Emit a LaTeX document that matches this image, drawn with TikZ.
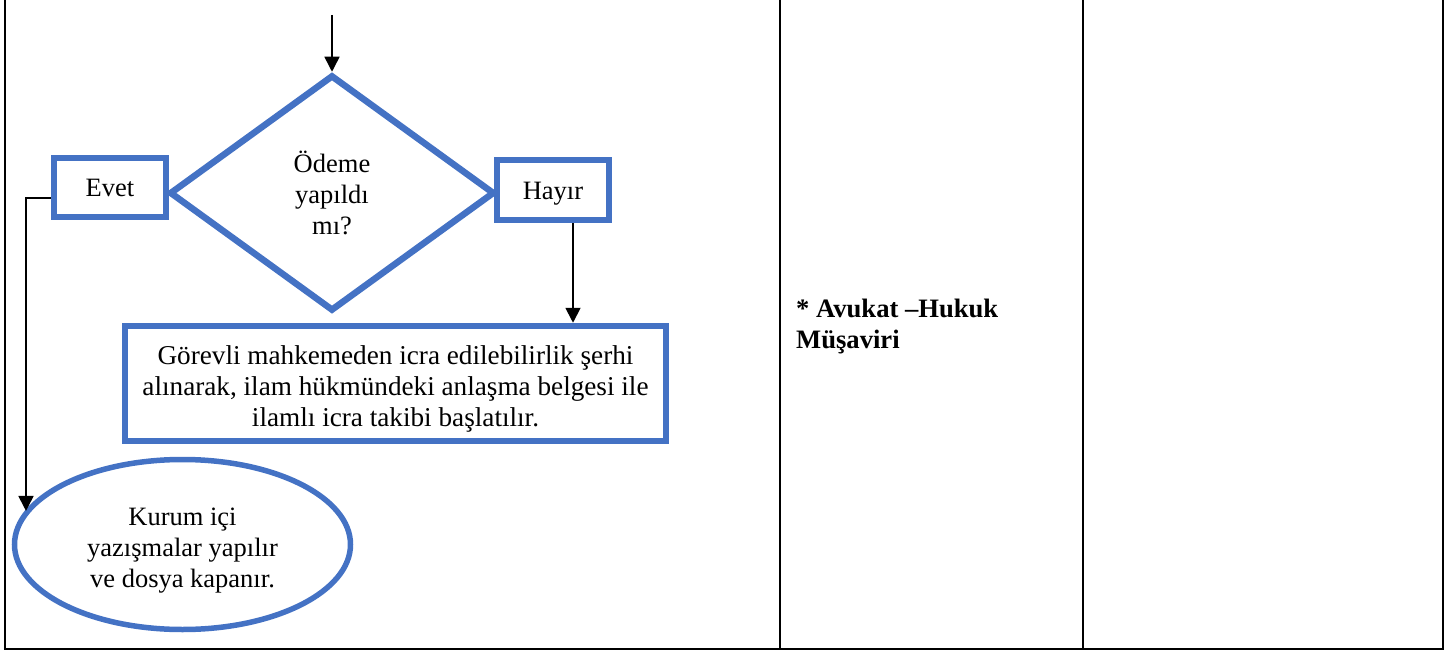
\documentclass[tikz,border=0pt]{standalone}
\usepackage{fontspec}
\setmainfont{Liberation Serif}
\usetikzlibrary{shapes.geometric,arrows.meta}
\definecolor{flowblue}{HTML}{4472C4}
\tikzset{
  x=1pt, y=-1pt,
  txt/.style={font=\fontsize{26.5}{31}\selectfont, align=center, inner sep=0pt},
  bluebox/.style={txt, draw=flowblue, line width=6.5pt, rectangle},
  arr/.style={line width=1.8pt, -{Triangle[length=15pt,width=15pt]}},
  grid/.style={line width=2.2pt}
}
\begin{document}
\begin{tikzpicture}
\useasboundingbox (0,0) rectangle (1455,652);
% table lines
\draw[grid] (5,0) -- (5,649);
\draw[grid] (780,0) -- (780,649);
\draw[grid] (1083,0) -- (1083,649);
\draw[grid] (1443,0) -- (1443,649);
\draw[grid] (3.9,649) -- (1444.1,649);

% nodes
\node[txt, draw=flowblue, line width=6.5pt, diamond, minimum width=325pt, minimum height=236pt, text width=90pt] (odeme) at (332,193) {Ödeme\\yapıldı\\mı?};
\node[bluebox, minimum width=112pt, minimum height=59pt] (evet) at (110,187.5) {Evet};
\node[bluebox, minimum width=112pt, minimum height=60pt, text height=19pt, text depth=4pt] (hayir) at (553,190) {\raisebox{-2pt}{Hayır}};
\node[draw=flowblue, line width=6.5pt, rectangle, minimum width=541pt, minimum height=115pt, inner sep=0pt] (gorev) at (395.5,383.5) {};
\node[txt, font=\fontsize{27.2}{31}\selectfont] (gorevtxt) at ([yshift=-5pt]gorev.center) {Görevli mahkemeden icra edilebilirlik şerhi\\alınarak, ilam hükmündeki anlaşma belgesi ile\\ilamlı icra takibi başlatılır.};
\node[draw=flowblue, line width=5.5pt, ellipse, minimum width=336pt, minimum height=170pt, inner sep=0pt] (kurum) at (182.5,544.5) {};
\node[txt] (kurumtxt) at ([yshift=-6pt]kurum.center) {Kurum içi\\yazışmalar yapılır\\ve dosya kapanır.};
\node[txt, anchor=base west, align=left, font=\fontsize{26.6}{31}\selectfont\bfseries] (rol) at (796,348) {* Avukat –Hukuk\\Müşaviri};

% connectors
\coordinate (top) at (332,15);
\coordinate (hx) at (573,0);
\coordinate (ex) at (26,198);
\draw[arr, line width=1.5pt] (top) -- (odeme.north);
\draw[arr] (hx |- hayir.south) -- (hx |- gorev.north);
\draw[arr] (evet.west |- ex) -| (ex |- kurum.168);
\end{tikzpicture}
\end{document}
